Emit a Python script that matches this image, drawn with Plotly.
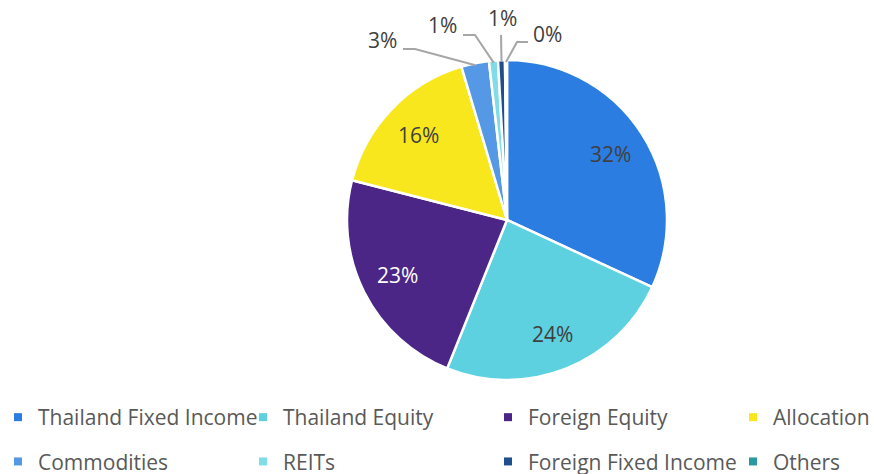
import math
import plotly.graph_objects as go

categories = ["Thailand Fixed Income", "Thailand Equity", "Foreign Equity", "Allocation",
              "Commodities", "REITs", "Foreign Fixed Income", "Others"]
values = [31.9, 24.2, 22.9, 16.4, 2.8, 0.9, 0.7, 0.2]
colors = ["#2B7DE1", "#5DD1E0", "#4B2687", "#F9E71E",
          "#5599E6", "#80DCE6", "#1F4E8C", "#2A9AA0"]
text_colors = ["#404040", "#404040", "#FFFFFF", "#404040",
               "#404040", "#404040", "#404040", "#404040"]

W, H = 874, 474
CX, CY, R = 507, 220, 160  # pie centre and radius in pixels
LABEL_R = 0.765 * R         # where the inside labels sit

fig = go.Figure()

fig.add_trace(go.Pie(
    labels=categories,
    values=values,
    sort=False,
    direction="clockwise",
    rotation=0,
    marker=dict(colors=colors, line=dict(color="white", width=2.5)),
    textinfo="none",
    showlegend=False,
    hoverinfo="label+percent",
    domain=dict(x=[(CX - R - 20) / W, (CX + R + 20) / W],
                y=[1 - (CY + R) / H, 1 - (CY - R) / H]),
))

# outside labels with elbow leader lines (label x,y and elbow x,y in pixels)
callouts = {
    "Commodities": dict(lx=382, ly=40, ex=[403, 415], ey=[49, 49]),
    "REITs": dict(lx=442, ly=25, ex=[463, 475], ey=[35, 35]),
    "Foreign Fixed Income": dict(lx=502, ly=18, ex=[501], ey=[35]),
    "Others": dict(lx=547, ly=34, ex=[528, 517], ey=[42, 42]),
}


def to_paper(x, y):
    return x / W, 1 - y / H


total = sum(values)
cum = 0
for name, v, tc in zip(categories, values, text_colors):
    mid = (cum + v / 2) / total * 2 * math.pi
    cum += v
    label = f"{round(v / total * 100)}%"
    if name in callouts:
        c = callouts[name]
        tx = CX + (R - 2) * math.sin(mid)
        ty = CY - (R - 2) * math.cos(mid)
        pts = list(zip(c["ex"], c["ey"])) + [(tx, ty)]
        path = " ".join(("M" if i == 0 else "L") + " %.5f,%.5f" % to_paper(x, y)
                        for i, (x, y) in enumerate(pts))
        fig.add_shape(type="path", path=path, xref="paper", yref="paper",
                      line=dict(color="#A6A6A6", width=2))
        ax, ay = to_paper(c["lx"], c["ly"])
    else:
        ax, ay = to_paper(CX + LABEL_R * math.sin(mid), CY - LABEL_R * math.cos(mid))
    fig.add_annotation(x=ax, y=ay, xref="paper", yref="paper", text=label,
                       showarrow=False, xanchor="center", yanchor="middle",
                       font=dict(family="Open Sans", size=21, color=tc))

# legend: one vertical legend per column, two rows each
col_x = [-2, 243, 488, 733]
legend_names = ["legend", "legend2", "legend3", "legend4"]
for i, (name, col) in enumerate(zip(categories, colors)):
    fig.add_trace(go.Scatter(
        x=[None], y=[None], mode="markers", name=name,
        marker=dict(symbol="square", size=8, color=col),
        legend=legend_names[i % 4], legendgroup=name,
    ))

legend_style = dict(orientation="v", xanchor="left", yanchor="top", y=1 - 397 / H,
                    tracegroupgap=14,
                    font=dict(family="Open Sans", size=21, color="#595959"),
                    bgcolor="rgba(0,0,0,0)", itemclick=False, itemdoubleclick=False)

fig.update_layout(
    width=W, height=H,
    margin=dict(l=0, r=0, t=0, b=0, autoexpand=False),
    paper_bgcolor="white", plot_bgcolor="white",
    xaxis=dict(visible=False), yaxis=dict(visible=False),
    **{ln: dict(**legend_style, x=cx / W) for ln, cx in zip(legend_names, col_x)},
)

# the page body has an 8px default margin; drop it so the figure fills the window
fig.write_html("out.html", config={"displayModeBar": False},
               post_script="document.body.style.margin = '0';")
